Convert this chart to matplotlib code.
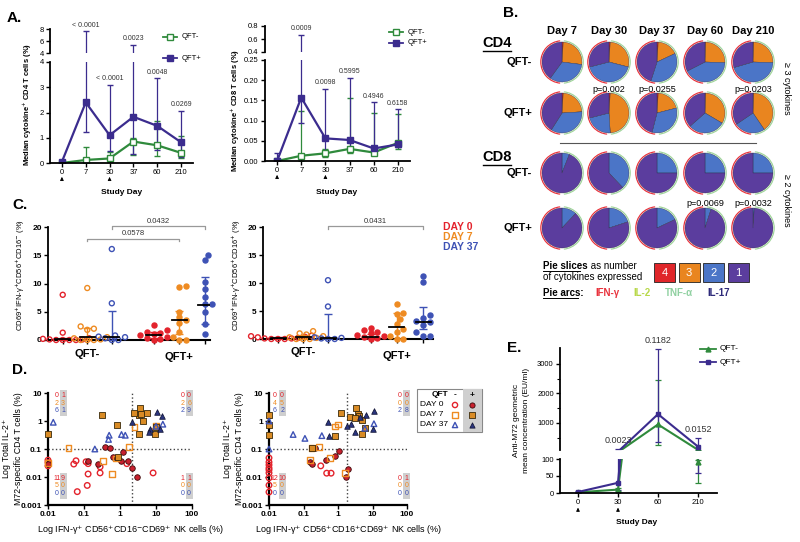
import numpy as np
import matplotlib
matplotlib.use("Agg")
import matplotlib.pyplot as plt
from matplotlib.patches import Wedge, Rectangle

plt.rcParams["font.family"] = ["Liberation Sans", "DejaVu Sans"]
plt.rcParams["axes.linewidth"] = 1.3

W, H = 800, 542

# ── A. median cytokine+ T cells over time ─────────────────────────────
A_DAYS = ["0", "7", "30", "37", "60", "210"]
CD4_NEG = [0.0, 0.12, 0.18, 0.85, 0.70, 0.40]
CD4_NEG_LO = [0.0, 0.0, 0.05, 0.32, 0.28, 0.18]
CD4_NEG_HI = [0.0, 0.63, 0.45, 1.0, 1.65, 1.08]
CD4_POS = [0.05, 2.40, 1.10, 1.83, 1.47, 0.82]
CD4_POS_LO = [0.0, 1.22, 0.47, 0.35, 0.50, 0.25]
CD4_POS_HI = [0.10, 7.6, 3.1, 5.4, 3.35, 2.05]
CD4_P = ["", "< 0.0001", "< 0.0001", "0.0023", "0.0048", "0.0269"]

CD8_NEG = [0.0, 0.013, 0.019, 0.030, 0.021, 0.045]
CD8_NEG_LO = [0.0, 0.0, 0.010, 0.020, 0.015, 0.030]
CD8_NEG_HI = [0.0, 0.123, 0.030, 0.155, 0.118, 0.116]
CD8_POS = [0.0, 0.157, 0.056, 0.052, 0.031, 0.041]
CD8_POS_LO = [0.0, 0.093, 0.020, 0.030, 0.020, 0.035]
CD8_POS_HI = [0.021, 0.665, 0.178, 0.205, 0.145, 0.128]
CD8_P = ["", "0.0009", "0.0098", "0.5995", "0.4946", "0.6158"]

# ── B. pies: fraction expressing 4 / 3 / 2 / 1 cytokines ──────────────
PIE_DAYS = ["Day 7", "Day 30", "Day 37", "Day 60", "Day 210"]
CD4N_4 = [0.01, 0.01, 0.01, 0.005, 0.005]
CD4N_3 = [0.26, 0.28, 0.17, 0.25, 0.25]
CD4N_2 = [0.33, 0.42, 0.37, 0.42, 0.45]
CD4P_4 = [0.01, 0.01, 0.01, 0.005, 0.005]
CD4P_3 = [0.23, 0.48, 0.20, 0.33, 0.40]
CD4P_2 = [0.35, 0.22, 0.33, 0.30, 0.25]
CD8N_2 = [0.06, 0.38, 0.25, 0.25, 0.25]
CD8P_2 = [0.12, 0.20, 0.18, 0.05, 0.01]
CD4_PIE_P = ["", "p=0.002", "p=0.0255", "", "p=0.0203"]
CD8_PIE_P = ["", "", "", "p=0.0069", "p=0.0032"]

# ── C. CD69+IFN-g+ NK cells (QFT- D0, D7, D37, QFT+ D0, D7, D37) ──────
C1_VALS = [
    [8.0, 1.3, 0.3, 0.2, 0.1, 0.1, 0.0, 0.0, 0.0, 0.0],
    [9.2, 2.4, 2.0, 1.8, 0.5, 0.3, 0.1, 0.0, 0.0, 0.0],
    [16.1, 6.5, 0.8, 0.6, 0.5, 0.3, 0.0, 0.0],
    [2.6, 1.8, 1.5, 1.2, 1.0, 0.8, 0.6, 0.4, 0.2, 0.0],
    [9.6, 9.4, 5.0, 4.0, 3.6, 3.0, 1.5, 0.5, 0.0, 0.0],
    [15.1, 14.2, 10.3, 9.0, 7.6, 6.3, 6.3, 5.0, 2.9, 1.1],
]
C1_MED = [0.1, 0.6, 0.6, 0.8, 3.6, 6.2]
C1_LO = [0.0, 0.0, 0.0, 0.3, 1.0, 2.8]
C1_HI = [0.4, 2.1, 5.2, 1.5, 5.1, 11.2]
C2_VALS = [
    [0.6, 0.5, 0.4, 0.3, 0.2, 0.1, 0.1, 0.0, 0.0, 0.0],
    [1.4, 1.0, 0.8, 0.5, 0.3, 0.2, 0.0, 0.0, 0.0],
    [10.5, 5.8, 0.3, 0.2, 0.1, 0.0, 0.0],
    [2.0, 1.6, 1.2, 1.0, 0.8, 0.5, 0.3, 0.2, 0.0],
    [6.2, 4.7, 4.5, 3.5, 2.6, 1.8, 1.2, 0.5, 0.0, 0.0],
    [11.2, 10.2, 4.3, 3.8, 3.2, 3.0, 2.5, 1.2, 0.6, 0.5],
]
C2_MED = [0.1, 0.3, 0.1, 0.3, 2.1, 3.0]
C2_LO = [0.0, 0.0, 0.0, 0.0, 0.0, 1.7]
C2_HI = [0.4, 0.8, 4.4, 0.9, 4.6, 5.8]
C_DAYS = ["DAY 0", "DAY 7", "DAY 37"]

# ── D. IL-2+ CD4 T cells vs IFN-g+ NK cells (x list, y list per group) ─
D1_GROUPS = [
    ([0.01, 0.01, 0.01, 0.052, 0.065, 0.123, 0.13, 0.114, 0.13, 0.28, 0.28, 1.55, 8.3, 0.06],
     [0.04, 0.033, 0.025, 0.029, 0.003, 0.005, 0.0128, 0.035, 0.03, 0.023, 0.014, 0.03, 0.014, 0.038]),
    ([0.01, 0.13, 0.24, 0.38, 0.53, 1.2, 1.1, 1.7, 2.1, 2.9, 0.64, 0.85],
     [0.028, 0.038, 0.03, 0.12, 0.11, 0.08, 0.038, 0.038, 0.021, 0.0098, 0.05, 0.047]),
    ([0.01, 0.037, 0.34, 0.6, 0.77, 1.8, 2.5, 10.0, 9.5],
     [0.032, 0.11, 0.038, 0.013, 0.046, 0.12, 0.6, 0.7, 0.45]),
    ([0.01, 0.31, 0.83, 0.88, 3.6, 3.3, 3.9, 4.4, 5.5, 3.4, 10.0, 9.5, 2.5],
     [0.33, 1.6, 0.72, 0.05, 2.9, 1.6, 1.8, 1.0, 1.9, 0.33, 0.6, 0.35, 1.9]),
    ([0.014, 0.2, 0.5, 0.48, 1.1, 1.4, 15.5, 10.0],
     [0.9, 0.1, 0.31, 0.22, 0.33, 0.31, 0.77, 0.65]),
    ([2.2, 10.5, 14.5, 12.6, 7.0, 6.5],
     [0.9, 2.1, 1.45, 0.5, 0.5, 0.42]),
]
D2_GROUPS = [
    ([0.01, 0.01, 0.01, 0.01, 0.01, 0.01, 0.01, 0.01, 0.01, 0.316, 0.47, 0.63],
     [0.048, 0.034, 0.027, 0.021, 0.018, 0.014, 0.0093, 0.0051, 0.0029, 0.025, 0.0137, 0.0137]),
    ([0.155, 0.18, 0.21, 0.45, 0.81, 1.07, 1.7, 2.0],
     [0.035, 0.03, 0.11, 0.04, 0.055, 0.082, 0.0104, 0.02]),
    ([0.155, 0.17, 0.28, 0.58, 0.82, 1.0, 1.6],
     [0.04, 0.11, 0.12, 0.048, 0.63, 0.75, 0.014]),
    ([0.01, 0.01, 0.01, 0.18, 0.82, 1.2, 2.2, 3.3, 3.8, 5.0, 4.0, 6.1, 4.8, 3.1],
     [1.6, 0.72, 0.32, 0.11, 0.3, 1.9, 1.4, 3.0, 1.8, 1.1, 1.5, 0.56, 0.35, 1.3]),
    ([0.01, 0.01, 0.05, 0.11, 0.34, 11.0, 6.0],
     [1.0, 0.1, 0.33, 0.24, 0.3, 0.8, 0.55]),
    ([0.51, 0.55, 2.4, 3.1, 4.3, 6.4, 11.0, 10.4, 1.8],
     [0.95, 0.3, 0.78, 0.4, 1.4, 1.6, 2.2, 0.5, 0.65]),
]
# quadrant counts (rows DAY 0 / 7 / 37, columns QFT- / QFT+)
D1_COUNTS = {"TL": [(0, 1), (2, 3), (6, 1)], "TR": [(0, 0), (2, 6), (2, 9)],
             "BL": [(11, 9), (5, 0), (0, 0)], "BR": [(1, 1), (0, 0), (0, 0)]}
D2_COUNTS = {"TL": [(0, 0), (4, 5), (6, 2)], "TR": [(0, 0), (0, 0), (2, 8)],
             "BL": [(12, 10), (5, 0), (0, 0)], "BR": [(0, 1), (0, 0), (0, 0)]}

# ── E. anti-M72 antibody ───────────────────────────────────────────────
E_DAYS = ["0", "30", "60", "210"]
E_NEG = [2, 10, 950, 90]
E_NEG_LO = [0, 5, 270, 30]
E_NEG_HI = [3, 15, 2450, 97]
E_POS = [3, 30, 1300, 200]
E_POS_LO = [1, 10, 370, 60]
E_POS_HI = [5, 130, 3500, 500]
E_P = ["", "0.0023", "0.1182", "0.0152"]

RED, ORANGE, BLUE = "#e3232c", "#ee8b22", "#3e52b5"
GREEN, PURPLE = "#2f8a3c", "#3b2c8e"
DAY_COLS = [RED, ORANGE, BLUE]
SLICE_COLS = ["#e0262a", "#e9851f", "#4b75c7", "#5b3d9e"]

fig = plt.figure(figsize=(8, 5.42), dpi=100)


def px_axes(x0, y0, x1, y1):
    return fig.add_axes([x0 / W, 1 - y1 / H, (x1 - x0) / W, (y1 - y0) / H])


def style(ax, fs=5.5, bold=False):
    for s in ("top", "right"):
        ax.spines[s].set_visible(False)
    ax.tick_params(direction="out", length=3, width=1, labelsize=fs, pad=1.5)
    if bold:
        for t in ax.get_xticklabels() + ax.get_yticklabels():
            t.set_fontweight("bold")


def swarm(vals, xs_px, ys_px, diam=5.5):
    vals = np.asarray(vals, float)
    offs = np.zeros(len(vals))
    placed = []
    step = diam * 0.6 / xs_px
    for i in np.argsort(vals):
        k = 0
        while True:
            cand = 0.0 if k == 0 else ((k + 1) // 2) * step * (1 if k % 2 else -1)
            if all(np.hypot((cand - a) * xs_px, (vals[i] - b) * ys_px) >= diam for a, b in placed):
                break
            k += 1
        offs[i] = cand
        placed.append((cand, vals[i]))
    return offs


ov = fig.add_axes([0, 0, 1, 1], zorder=10)
ov.set_xlim(0, W)
ov.set_ylim(H, 0)
ov.axis("off")
ov.patch.set_visible(False)


# ── Panel A ──
def panel_a(box_lo, box_hi, lims_lo, lims_hi, ticks_lo, ticks_hi, fmt_lo, fmt_hi,
            neg, neg_lo, neg_hi, pos, pos_lo, pos_hi, pvals):
    ax_lo = px_axes(*box_lo)
    ax_hi = px_axes(*box_hi)
    xpos = np.arange(len(A_DAYS))
    for ax in (ax_lo, ax_hi):
        for v, lo, hi, col, face in ((neg, neg_lo, neg_hi, GREEN, "white"),
                                     (pos, pos_lo, pos_hi, PURPLE, PURPLE)):
            v = np.asarray(v, float)
            err = [v - np.asarray(lo), np.asarray(hi) - v]
            ax.errorbar(xpos, v, yerr=err, color=col, marker="s", ms=4.5, mfc=face, mec=col,
                        mew=1, lw=1.6, elinewidth=0.9, capsize=2.5, capthick=0.9)
        ax.set_xlim(-0.5, 5.5)
        ax.patch.set_visible(False)
    ax_lo.set_ylim(*lims_lo)
    ax_hi.set_ylim(*lims_hi)
    ax_lo.set_yticks(ticks_lo)
    ax_lo.set_yticklabels([fmt_lo % t for t in ticks_lo])
    ax_hi.set_yticks(ticks_hi)
    ax_hi.set_yticklabels([fmt_hi % t for t in ticks_hi])
    ax_lo.set_xticks(xpos)
    ax_lo.set_xticklabels(A_DAYS)
    style(ax_lo)
    style(ax_hi)
    ax_hi.spines["bottom"].set_visible(False)
    ax_hi.set_xticks([])
    for i, p in enumerate(pvals):
        if not p:
            continue
        top = max(neg_hi[i], pos_hi[i])
        ax = ax_hi if top > lims_lo[1] else ax_lo
        ax.annotate(p, (i, top), xytext=(0, 2), textcoords="offset points",
                    ha="center", va="bottom", fontsize=5, color="#333333")
    for i in (0, 2):
        ax_lo.annotate("", xy=(i, -0.11), xycoords=("data", "axes fraction"),
                       xytext=(i, -0.2), textcoords=("data", "axes fraction"),
                       arrowprops=dict(arrowstyle="-|>", color="k", lw=0.6, mutation_scale=5))
    return ax_lo


panel_a((50, 62, 193, 163), (50, 29, 193, 53), (0, 4), (4, 8), [0, 1, 2, 3, 4], [4, 6, 8],
        "%d", "%d", CD4_NEG, CD4_NEG_LO, CD4_NEG_HI, CD4_POS, CD4_POS_LO, CD4_POS_HI, CD4_P)
panel_a((265, 60, 410, 161), (265, 26, 410, 52), (0, 0.25), (0.4, 0.8),
        [0, 0.05, 0.10, 0.15, 0.20, 0.25], [0.4, 0.6, 0.8], "%.2f", "%.1f",
        CD8_NEG, CD8_NEG_LO, CD8_NEG_HI, CD8_POS, CD8_POS_LO, CD8_POS_HI, CD8_P)

ov.text(27, 104, "Median cytokine$^{+}$ CD4 T cells (%)", rotation=90, ha="center", va="center",
        fontsize=5.5, fontweight="bold")
ov.text(235, 110, "Median cytokine$^{+}$ CD8 T cells (%)", rotation=90, ha="center", va="center",
        fontsize=5.5, fontweight="bold")
ov.text(122, 193, "Study Day", ha="center", va="center", fontsize=6, fontweight="bold")
ov.text(337, 193, "Study Day", ha="center", va="center", fontsize=6, fontweight="bold")
for lx, ly0, gap in ((170, 37, 21), (396, 32, 11)):
    ov.plot([lx - 7, lx + 7], [ly0, ly0], color=GREEN, lw=1.3)
    ov.plot([lx], [ly0], marker="s", ms=4, mfc="white", mec=GREEN, mew=1)
    ov.plot([lx - 7, lx + 7], [ly0 + gap, ly0 + gap], color=PURPLE, lw=1.3)
    ov.plot([lx], [ly0 + gap], marker="s", ms=4, color=PURPLE)
    ov.text(lx + 12, ly0, "QFT-", fontsize=5.5, va="center")
    ov.text(lx + 12, ly0 + gap, "QFT+", fontsize=5.5, va="center")

# ── Panel B: pies ──
pie_x = [562, 609, 657, 705, 753]
pie_y = [62, 113, 173, 228]
R = 20
pie_rows = [
    (CD4N_4, CD4N_3, CD4N_2),
    (CD4P_4, CD4P_3, CD4P_2),
    ([0] * 5, [0] * 5, CD8N_2),
    ([0] * 5, [0] * 5, CD8P_2),
]
for r, (f4, f3, f2) in enumerate(pie_rows):
    for c in range(len(PIE_DAYS)):
        fr = [f4[c], f3[c], f2[c]]
        fr.append(1 - sum(fr))
        start = -90.0
        for f, col in zip(fr, SLICE_COLS):
            if f <= 0:
                continue
            ov.add_patch(Wedge((pie_x[c], pie_y[r]), R, start, start + 360 * f,
                               facecolor=col, edgecolor="#2a2a40", lw=0.25))
            start += 360 * f
        ov.add_patch(Wedge((pie_x[c], pie_y[r]), R + 1.8, 95, 265, width=1.2,
                           facecolor="#e8323c", edgecolor="none"))
        ov.add_patch(Wedge((pie_x[c], pie_y[r]), R + 1.8, -85, 85, width=1.2,
                           facecolor="#9fd49a", edgecolor="none"))

for c, d in enumerate(PIE_DAYS):
    ov.text(pie_x[c], 31, d, ha="center", va="center", fontsize=8, fontweight="bold")
    if CD4_PIE_P[c]:
        ov.text(pie_x[c], 89, CD4_PIE_P[c], ha="center", va="center", fontsize=6.5)
    if CD8_PIE_P[c]:
        ov.text(pie_x[c], 203, CD8_PIE_P[c], ha="center", va="center", fontsize=6.5)

ov.text(503, 13, "B.", fontsize=11, fontweight="bold", va="center")
for lbl, y in (("CD4", 43), ("CD8", 157)):
    ov.text(497, y, lbl, ha="center", va="center", fontsize=10.5, fontweight="bold")
    ov.plot([483, 511], [y + 7.5, y + 7.5], color="k", lw=1)
for lbl, y in zip(["QFT-", "QFT+", "QFT-", "QFT+"], pie_y):
    ov.text(532, y, lbl, ha="right", va="center", fontsize=8, fontweight="bold")
ov.plot([560, 756], [143, 143], color="#555555", lw=0.8)
ov.text(787, 88, "≥ 3 cytokines", rotation=-90, ha="center", va="center", fontsize=6.5)
ov.text(787, 200, "≥ 2 cytokines", rotation=-90, ha="center", va="center", fontsize=6.5)

t1 = ov.text(543, 266, "Pie slices", fontsize=7, fontweight="bold", va="center")
ov.annotate(" as number", xy=(1, 0.5), xycoords=t1, va="center", fontsize=7)
ov.plot([543, 580], [271, 271], color="k", lw=0.7)
ov.text(543, 277, "of cytokines expressed", fontsize=7, va="center")
for k, (num, col) in enumerate(zip(["4", "3", "2", "1"], SLICE_COLS)):
    x0 = 654 + k * 24.5
    ov.add_patch(Rectangle((x0, 263), 21, 19, facecolor=col, edgecolor="#222222", lw=0.6))
    ov.text(x0 + 10.5, 272.5, num, color="white", ha="center", va="center", fontsize=8)
ov.text(543, 293, "Pie arcs:", fontsize=7, fontweight="bold", va="center")
ov.plot([543, 578], [298, 298], color="k", lw=0.7)
for lbl, x, col in (("IFN-γ", 595, "#e8323c"), ("IL-2", 633, "#b8d84a"),
                    ("TNF-α", 665, "#8fd0a0"), ("IL-17", 707, "#2e2a7a")):
    ov.text(x, 293, lbl, color=col, fontsize=7, fontweight="bold", va="center")

# ── Panel C ──
CX = [0, 1, 2, 3.7, 4.75, 5.8]


def panel_c(box, vals_all, med, lo, hi, xmax, brackets, ylabel, ylab_x):
    ax = px_axes(*box)
    ax.set_xlim(-0.6, xmax)
    ax.set_ylim(0, 20)
    for i, vals in enumerate(vals_all):
        col = DAY_COLS[i % 3]
        off = swarm(vals, 24.5, 5.65)
        ax.scatter(CX[i] + off, vals, s=13, marker="o", facecolors=col if i >= 3 else "none",
                   edgecolors=col, linewidths=1.0, clip_on=False, zorder=3)
        ax.errorbar(CX[i], med[i], yerr=[[med[i] - lo[i]], [hi[i] - med[i]]], color=col,
                    capsize=3, lw=1, capthick=1, zorder=4)
        ax.plot([CX[i] - 0.3, CX[i] + 0.3], [med[i]] * 2, color="k", lw=1.3, zorder=5)
    for i, j, y, lbl in brackets:
        ax.plot([CX[i], CX[i], CX[j], CX[j]], [y - 0.4, y, y, y - 0.4], color="#999999", lw=0.9,
                clip_on=False)
        ax.text((CX[i] + CX[j]) / 2, y + 0.3, lbl, ha="center", va="bottom", fontsize=5.5,
                color="#333333")
    ax.set_yticks([0, 5, 10, 15, 20])
    ax.set_xticks(CX)
    ax.set_xticklabels([])
    style(ax, fs=6, bold=True)
    ax.spines["bottom"].set_linewidth(1.5)
    tr = ax.get_xaxis_transform()
    ax.text(CX[1], -0.12, "QFT-", transform=tr, ha="center", va="center", fontsize=8, fontweight="bold")
    ax.text(CX[4], -0.15, "QFT+", transform=tr, ha="center", va="center", fontsize=8, fontweight="bold")
    ov.text(ylab_x, (box[1] + box[3]) / 2 - 8, ylabel, rotation=90, ha="center", va="center", fontsize=5.5)


panel_c((48, 227, 210, 340), C1_VALS, C1_MED, C1_LO, C1_HI, 6.0,
        [(2, 5, 20.1, "0.0432"), (1, 4, 17.9, "0.0578")],
        "CD69$^{+}$IFN-γ$^{+}$CD56$^{+}$CD16$^{-}$ (%)", 20)
panel_c((263, 227, 433, 339), C2_VALS, C2_MED, C2_LO, C2_HI, 6.2,
        [(2, 5, 20.1, "0.0431")],
        "CD69$^{+}$IFN-γ$^{+}$CD56$^{+}$CD16$^{+}$ (%)", 236)
for k, d in enumerate(C_DAYS):
    ov.text(443, 227 + 10 * k, d, color=DAY_COLS[k], fontsize=7.5, fontweight="bold", va="center")
ov.text(7, 18, "A.", fontsize=11, fontweight="bold", va="center")
ov.text(12, 205, "C.", fontsize=11, fontweight="bold", va="center")
ov.text(12, 370, "D.", fontsize=11, fontweight="bold", va="center")
ov.text(507, 348, "E.", fontsize=11, fontweight="bold", va="center")

# ── Panel D ──
D_STYLES = [
    dict(marker="o", facecolors="none", edgecolors=RED, linewidths=1.0),
    dict(marker="o", facecolors="#c8202e", edgecolors="#3a0a0a", linewidths=0.6),
    dict(marker="s", facecolors="none", edgecolors=ORANGE, linewidths=1.0),
    dict(marker="s", facecolors="#d98b25", edgecolors="#3a2a0a", linewidths=0.6),
    dict(marker="^", facecolors="none", edgecolors=BLUE, linewidths=1.0),
    dict(marker="^", facecolors="#2a3580", edgecolors="#15183a", linewidths=0.6),
]


def panel_d(box, groups, vline, counts, xlabel, cols_tl, cols_tr):
    ax = px_axes(*box)
    ax.set_xscale("log")
    ax.set_yscale("log")
    ax.set_xlim(0.01, 100)
    ax.set_ylim(0.001, 10)
    for (xs, ys), st in zip(groups, D_STYLES):
        ax.scatter(xs, ys, s=16, clip_on=False, zorder=3, **st)
    ax.axhline(0.1, ls=":", color="#444444", lw=1)
    ax.axvline(vline, ls=":", color="#444444", lw=1)
    ax.set_xticks([0.01, 0.1, 1, 10, 100])
    ax.set_xticklabels(["0.01", "0.1", "1", "10", "100"])
    ax.set_yticks([0.001, 0.01, 0.1, 1, 10])
    ax.set_yticklabels(["0.001", "0.01", "0.1", "1", "10"])
    ax.minorticks_off()
    style(ax, fs=6, bold=True)
    ax.spines["left"].set_linewidth(1.6)
    ax.spines["bottom"].set_linewidth(1.6)
    rows_top = [0.975, 0.91, 0.845]
    rows_bot = [0.24, 0.17, 0.10]
    for key, rows, xc in (("TL", rows_top, cols_tl), ("TR", rows_top, cols_tr),
                          ("BL", rows_bot, cols_tl), ("BR", rows_bot, cols_tr)):
        ax.add_patch(Rectangle((xc[1] - 0.025, rows[2] - 0.05), 0.05, rows[0] - rows[2] + 0.1,
                               transform=ax.transAxes, facecolor="#cfcfcf", edgecolor="none",
                               clip_on=False, zorder=1))
        for (a, b), y, col in zip(counts[key], rows, DAY_COLS):
            ax.text(xc[0], y, str(a), transform=ax.transAxes, ha="center", va="center",
                    fontsize=5, color=col, zorder=2)
            ax.text(xc[1], y, str(b), transform=ax.transAxes, ha="center", va="center",
                    fontsize=5, color=col, zorder=2)
    ov.text((box[0] + box[2]) / 2 + 10, 530, xlabel, ha="center", va="center", fontsize=6.5)
    ov.text(box[0] - 41, 449, "Log Total IL-2$^{+}$", rotation=90, ha="center", va="center",
            fontsize=6.3)
    ov.text(box[0] - 29.5, 449, "M72-specific CD4 T cells (%)", rotation=90, ha="center",
            va="center", fontsize=6.3)


panel_d((48, 393, 192, 505), D1_GROUPS, 2.1, D1_COUNTS,
        "Log IFN-γ$^{+}$ CD56$^{+}$CD16$^{-}$CD69$^{+}$ NK cells (%)", (0.06, 0.105), (0.935, 0.98))
panel_d((269, 393, 407, 505), D2_GROUPS, 1.8, D2_COUNTS,
        "Log IFN-γ$^{+}$ CD56$^{+}$CD16$^{+}$CD69$^{+}$ NK cells (%)", (0.04, 0.095), (0.95, 0.995))

# D legend
ov.add_patch(Rectangle((417, 389), 65, 43, facecolor="white", edgecolor="#888888", lw=0.8))
ov.add_patch(Rectangle((463, 389), 19, 43, facecolor="#cfcfcf", edgecolor="none"))
ov.text(440, 395, "QFT", fontsize=6, fontweight="bold", ha="center", va="center")
ov.text(455, 395, "-", fontsize=6, fontweight="bold", ha="center", va="center")
ov.text(472, 395, "+", fontsize=6, fontweight="bold", ha="center", va="center")
for k, d in enumerate(["DAY 0", "DAY 7", "DAY 37"]):
    y = 405 + 10 * k
    ov.text(420, y, d, fontsize=6, va="center")
    ov.scatter([455], [y], s=14, **D_STYLES[2 * k])
    ov.scatter([472], [y], s=14, **D_STYLES[2 * k + 1])

# ── Panel E ──
ex = np.arange(len(E_DAYS))
e_lo = px_axes(560, 459, 717, 493)
e_hi = px_axes(560, 348, 717, 450)
E_HI_MIN, E_LO_MAX = 85, 100
for ax in (e_lo, e_hi):
    for v, lo, hi, col, mk in ((E_NEG, E_NEG_LO, E_NEG_HI, GREEN, "^"),
                               (E_POS, E_POS_LO, E_POS_HI, PURPLE, "s")):
        v = np.asarray(v, float)
        err = [v - np.asarray(lo), np.asarray(hi) - v]
        cont = ax.errorbar(ex, v, yerr=err, color=col, marker=mk, ms=3.5, lw=1.5, elinewidth=0.9,
                           capsize=2.5, capthick=0.9)
        # only draw markers that fall inside this part of the broken axis
        inside = np.where(v > E_LO_MAX)[0] if ax is e_hi else np.where(v <= E_LO_MAX)[0]
        cont.lines[0].set_markevery(list(inside))
    ax.set_xlim(-0.45, 3.475)
    ax.patch.set_visible(False)
e_lo.set_ylim(0, E_LO_MAX)
e_hi.set_ylim(E_HI_MIN, 3540)
e_lo.set_yticks([0, 50, 100])
e_hi.set_yticks([1000, 2000, 3000])
e_hi.set_yticks([500, 1500, 2500], minor=True)
e_lo.set_xticks(ex)
e_lo.set_xticklabels(E_DAYS)
style(e_lo)
style(e_hi)
e_hi.tick_params(which="minor", length=2, width=0.8)
e_hi.spines["bottom"].set_visible(False)
e_hi.set_xticks([])
for i, p in enumerate(E_P):
    if not p:
        continue
    top = max(E_NEG_HI[i], E_POS_HI[i])
    ax = e_hi if top > E_LO_MAX else e_lo
    ax.annotate(p, (i, top), xytext=(0, 3), textcoords="offset points",
                ha="center", va="bottom", fontsize=6.5, color="#333333")
for i in (0, 1):
    e_lo.annotate("", xy=(i, -0.35), xycoords=("data", "axes fraction"),
                  xytext=(i, -0.6), textcoords=("data", "axes fraction"),
                  arrowprops=dict(arrowstyle="-|>", color="k", lw=0.6, mutation_scale=5))
ov.text(637, 523, "Study Day", ha="center", va="center", fontsize=6, fontweight="bold")
ov.text(516, 420, "Anti-M72 geometric", rotation=90, ha="center", va="center", fontsize=6)
ov.text(526, 420, "mean concentration (EU/ml)", rotation=90, ha="center", va="center", fontsize=6)
for y, col, mk, lbl in ((349, GREEN, "^", "QFT-"), (362, PURPLE, "s", "QFT+")):
    ov.plot([700, 716], [y, y], color=col, lw=1.3)
    ov.plot([708], [y], marker=mk, ms=3.5, color=col)
    ov.text(720, y, lbl, fontsize=6, va="center")

fig.savefig("out.png", dpi=100)
